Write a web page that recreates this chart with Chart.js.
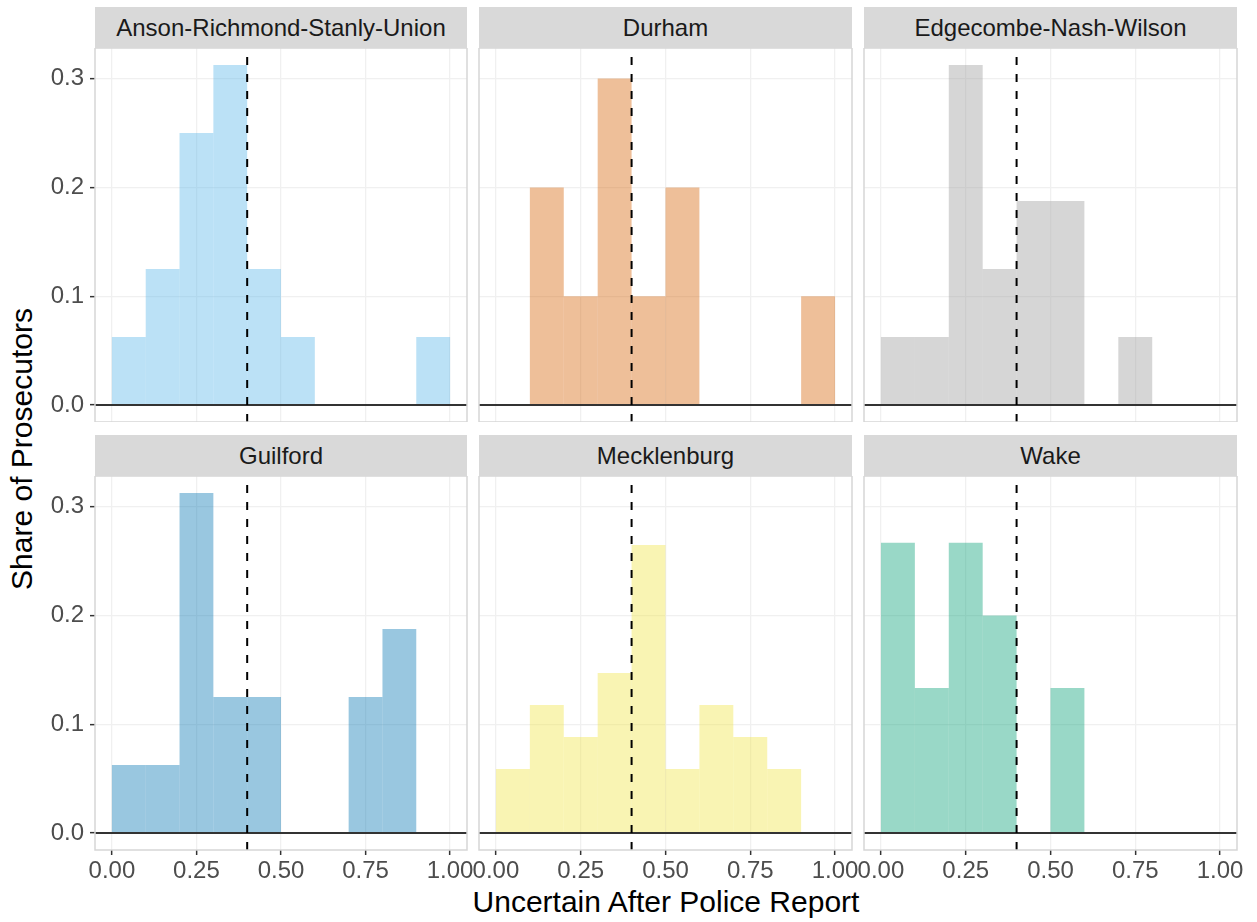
<!DOCTYPE html>
<html>
<head>
<meta charset="utf-8">
<title>Uncertain After Police Report</title>
<script src="https://cdn.jsdelivr.net/npm/chart.js@4.4.1/dist/chart.umd.min.js"></script>
<style>
  body { margin: 0; background: #fff; width: 1257px; height: 922px; position: relative; overflow: hidden;
         font-family: "Liberation Sans", Arial, Helvetica, sans-serif; }
  canvas { position: absolute; }
  .strip { position: absolute; height: 41px; background: #D9D9D9; color: #1A1A1A; font-size: 24px;
           display: flex; align-items: center; justify-content: center; }
  .xtitle { position: absolute; left: 366px; width: 600px; top: 887px; line-height: 30px; font-size: 30px;
            text-align: center; color: #000; }
  .ytitle { position: absolute; left: -178px; top: 431px; width: 400px; height: 36px; line-height: 36px;
            font-size: 30px; text-align: center; color: #000; transform: rotate(-90deg); }
</style>
</head>
<body>
<div class="xtitle">Uncertain After Police Report</div>
<div class="ytitle">Share of Prosecutors</div>
<script>
// districts, one facet each
const regions = ['Anson-Richmond-Stanly-Union', 'Durham', 'Edgecombe-Nash-Wilson',
                 'Guilford', 'Mecklenburg', 'Wake'];

// histogram bins (width 0.1), centers
const binCenters = [0.05, 0.15, 0.25, 0.35, 0.45, 0.55, 0.65, 0.75, 0.85, 0.95];

// share of prosecutors per bin
const ansonShare       = [0.0625, 0.125, 0.25, 0.3125, 0.125, 0.0625, 0, 0, 0, 0.0625];
const durhamShare      = [0, 0.2, 0.1, 0.3, 0.1, 0.2, 0, 0, 0, 0.1];
const edgecombeShare   = [0.0625, 0.0625, 0.3125, 0.125, 0.1875, 0.1875, 0, 0.0625, 0, 0];
const guilfordShare    = [0.0625, 0.0625, 0.3125, 0.125, 0.125, 0, 0, 0.125, 0.1875, 0];
const mecklenburgShare = [0.0588, 0.1176, 0.0882, 0.1471, 0.2647, 0.0588, 0.1176, 0.0882, 0.0588, 0];
const wakeShare        = [0.2667, 0.1333, 0.2667, 0.2, 0, 0.1333, 0, 0, 0, 0];
const shares = [ansonShare, durhamShare, edgecombeShare, guilfordShare, mecklenburgShare, wakeShare];

const regionColors = ['rgba(86,180,233,0.4)', 'rgba(213,94,0,0.4)', 'rgba(153,153,153,0.4)',
                      'rgba(0,114,178,0.4)', 'rgba(240,228,66,0.4)', 'rgba(0,158,115,0.4)'];

const xTicks = [0, 0.25, 0.5, 0.75, 1];
const yTicks = [0, 0.1, 0.2, 0.3];
const xRange = [-0.05, 1.05];
const yRange = [-0.015625, 0.328125];
const cutoff = 0.4;    // dashed reference line
const baseline = 0;    // solid zero line

// panel geometry (plot areas)
const cols = [[95, 467], [479, 852], [864, 1237]];
const rows = [[48, 422], [476, 850]];
const fontFamily = '"Liberation Sans", Arial, Helvetica, sans-serif';

const panelBorder = {
  id: 'panelBorder',
  afterDraw(chart) {
    const a = chart.chartArea, ctx = chart.ctx;
    ctx.save();
    ctx.strokeStyle = '#D6D6D6';
    ctx.lineWidth = 1.5;
    ctx.strokeRect(a.left, a.top, a.right - a.left, a.bottom - a.top);
    ctx.restore();
  }
};

regions.forEach((name, i) => {
  const col = i % 3, row = Math.floor(i / 3);
  const isLeft = col === 0, isBottom = row === 1;
  const yAxisW = isLeft ? 55 : 0;
  const xAxisH = isBottom ? 50 : 0;

  const strip = document.createElement('div');
  strip.className = 'strip';
  strip.textContent = name;
  strip.style.left = cols[col][0] + 'px';
  strip.style.width = (cols[col][1] - cols[col][0]) + 'px';
  strip.style.top = (rows[row][0] - 41) + 'px';
  document.body.appendChild(strip);

  const canvas = document.createElement('canvas');
  const left = cols[col][0] - 10 - yAxisW;
  const width = cols[col][1] + 10 - left;
  const height = rows[row][1] - rows[row][0] + xAxisH;
  canvas.width = width;
  canvas.height = height;
  canvas.style.left = left + 'px';
  canvas.style.top = rows[row][0] + 'px';
  document.body.appendChild(canvas);

  new Chart(canvas, {
    type: 'bar',
    data: {
      datasets: [
        {
          type: 'line',
          data: [{x: cutoff, y: yRange[0]}, {x: cutoff, y: yRange[1]}],
          borderColor: '#000', borderWidth: 2, borderDash: [8, 9],
          pointRadius: 0, order: 0
        },
        {
          type: 'line',
          data: [{x: xRange[0], y: baseline}, {x: xRange[1], y: baseline}],
          borderColor: '#333333', borderWidth: 2.2,
          pointRadius: 0, order: 1
        },
        {
          type: 'bar',
          data: binCenters.map((c, k) => ({x: c, y: shares[i][k]})),
          backgroundColor: regionColors[i],
          borderWidth: 0,
          inflateAmount: 0,
          barPercentage: 1, categoryPercentage: 1,
          order: 2
        }
      ]
    },
    options: {
      responsive: false,
      animation: false,
      layout: {padding: {left: 10, right: 10, top: 0, bottom: 0}},
      plugins: {legend: {display: false}, tooltip: {enabled: false}},
      scales: {
        x: {
          type: 'linear', min: xRange[0], max: xRange[1], offset: false,
          afterBuildTicks: s => { s.ticks = xTicks.map(v => ({value: v})); },
          afterFit: s => { s.height = xAxisH; s.paddingLeft = 0; s.paddingRight = 0; },
          border: {display: false},
          grid: {offset: false, color: '#F0F0F0', lineWidth: 1.3, drawTicks: isBottom, tickLength: 5,
                 tickColor: '#333333', tickWidth: 1.5},
          ticks: {display: isBottom, color: '#4D4D4D', padding: 2, maxRotation: 0, autoSkip: false,
                  font: {family: fontFamily, size: 24},
                  callback: v => Number(v).toFixed(2)}
        },
        y: {
          type: 'linear', min: yRange[0], max: yRange[1],
          afterBuildTicks: s => { s.ticks = yTicks.map(v => ({value: v})); },
          afterFit: s => { s.width = yAxisW; s.paddingTop = 0; s.paddingBottom = 0; },
          border: {display: false},
          grid: {color: '#F0F0F0', lineWidth: 1.3, drawTicks: isLeft, tickLength: 5,
                 tickColor: '#333333', tickWidth: 1.5},
          ticks: {display: isLeft, color: '#4D4D4D', padding: 6, autoSkip: false,
                  font: {family: fontFamily, size: 24},
                  callback: v => Number(v).toFixed(1)}
        }
      }
    },
    plugins: [panelBorder]
  });
});
</script>
</body>
</html>
